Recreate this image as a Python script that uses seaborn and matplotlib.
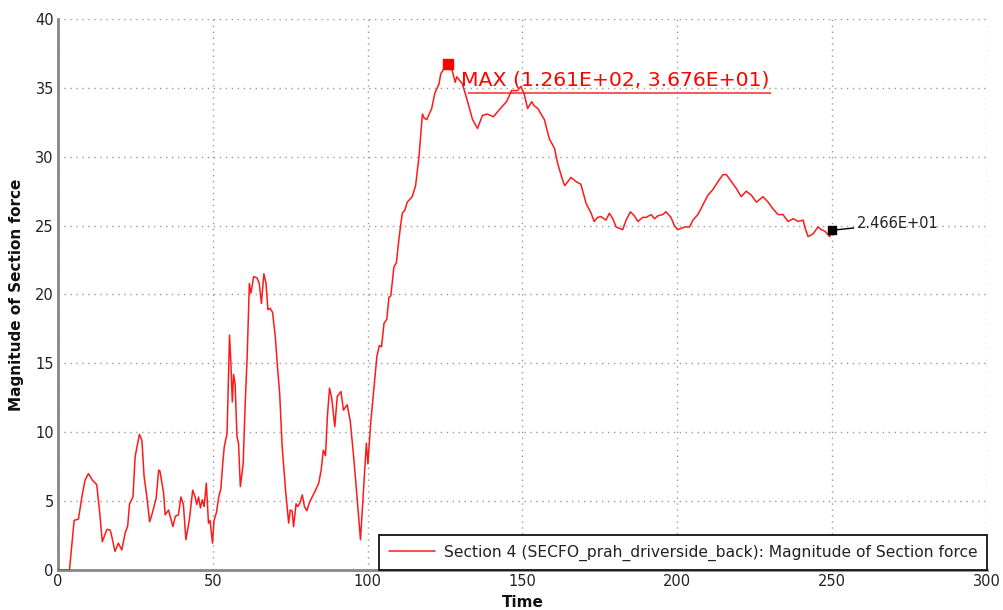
import numpy as np
import pandas as pd
import matplotlib
matplotlib.use("Agg")
import matplotlib.pyplot as plt
import seaborn as sns

# --- data (time, magnitude of section force) ---
time_0_50 = [0, 3.7, 5.2, 6.6, 7.7, 8.7, 9.8, 11.2, 12.5, 13.4, 14.3, 15.8, 16.8, 17.1,
             18.4, 19.5, 20.6, 21.7, 22.5, 23.1, 24.2, 24.9, 25.5, 26.3, 27.1, 27.8, 28.7,
             29.6, 30.3, 31.7, 32.5, 32.9, 34.1, 34.6, 35.7, 37.1, 37.9, 38.9, 39.7, 40.5,
             41.3, 42.4, 43.5, 44.3, 44.8, 45.4, 46.0, 46.6, 47.2, 47.9, 48.6, 49.1, 49.9]
force_0_50 = [0, 0, 3.6, 3.7, 5.3, 6.5, 7.0, 6.5, 6.2, 4.3, 2.05, 2.95, 2.9, 2.7,
              1.35, 1.95, 1.45, 2.7, 3.2, 4.8, 5.3, 8.2, 8.95, 9.85, 9.4, 6.8, 5.3,
              3.5, 4.0, 5.2, 7.25, 7.2, 5.6, 4.0, 4.35, 3.15, 3.9, 4.0, 5.3, 4.75,
              2.2, 3.6, 5.8, 5.3, 4.75, 5.3, 4.5, 5.1, 4.6, 6.3, 3.4, 3.6, 1.95]

time_50_100 = [50.4, 51.2, 51.9, 52.6, 53.2, 53.7, 54.6, 55.4, 55.8, 56.3, 56.7, 57.2, 57.8,
               58.3, 58.9, 59.8, 60.5, 61.1, 61.8, 62.3, 63.2, 64.3, 65.0, 65.7, 66.5, 67.2,
               67.8, 68.5, 69.3, 70.2, 70.8, 71.6, 72.4, 73.5, 74.5, 75.0, 75.6, 76.1, 76.9,
               77.4, 78.1, 78.9, 79.6, 80.4, 81.2, 83.2, 84.2, 85.0, 85.7, 86.4, 87.0, 87.7,
               88.4, 89.4, 90.2, 91.4, 92.2, 93.4, 94.4, 95.5, 96.4, 97.7, 98.8, 99.6, 100.1]
force_50_100 = [3.6, 4.2, 5.3, 5.9, 7.7, 8.95, 9.9, 17.05, 15.2, 12.2, 14.2, 13.5, 9.7,
                9.2, 6.05, 7.7, 12.3, 15.5, 20.8, 20.1, 21.3, 21.2, 20.8, 19.35, 21.5, 20.8,
                18.9, 19.0, 18.7, 16.9, 15.0, 12.8, 8.95, 5.8, 3.4, 4.35, 4.3, 3.15, 4.8,
                4.6, 4.85, 5.45, 4.6, 4.3, 4.9, 5.8, 6.3, 7.25, 8.7, 8.3, 11.1, 13.2,
                12.5, 10.4, 12.6, 12.95, 11.6, 12.0, 10.8, 8.2, 5.8, 2.2, 6.3, 9.2, 7.7]

time_100_150 = [101.0, 102.0, 103.0, 103.8, 104.5, 105.3, 106.2, 106.9, 107.5, 108.5, 109.3,
                110.1, 111.2, 112.0, 112.8, 114.4, 115.5, 116.6, 117.7, 118.3, 119.1, 120.7,
                121.7, 123.1, 123.6, 125.2, 126.1, 127.4, 128.3, 128.8, 130.6, 132.3, 133.9,
                135.5, 137.1, 138.7, 140.6, 142.5, 143.3, 144.9, 146.5, 148.4, 149.5]
force_100_150 = [10.7, 13.1, 15.5, 16.3, 16.2, 17.9, 18.2, 19.8, 19.9, 22.0, 22.3,
                 24.0, 25.9, 26.1, 26.7, 27.1, 27.9, 30.0, 33.1, 32.8, 32.7, 33.5,
                 34.6, 35.3, 36.0, 36.6, 36.76, 36.2, 35.4, 35.8, 35.3, 34.0, 32.7,
                 32.05, 33.0, 33.1, 32.9, 33.4, 33.6, 34.0, 34.8, 34.8, 35.1]

time_150_200 = [150.5, 151.7, 153.0, 153.8, 155.0, 156.0, 157.1, 158.7, 160.4, 161.4, 163.0,
                163.7, 165.7, 167.3, 168.9, 170.6, 172.2, 173.2, 174.3, 175.4, 177.0, 178.1,
                179.2, 180.3, 182.4, 183.5, 184.9, 186.2, 187.3, 188.9, 190.0, 191.6, 192.7,
                193.7, 195.3, 196.4, 198.0, 199.1]
force_150_200 = [34.6, 33.5, 34.0, 33.7, 33.5, 33.1, 32.7, 31.3, 30.6, 29.5, 28.3,
                 27.9, 28.5, 28.2, 28.0, 26.6, 25.9, 25.3, 25.6, 25.65, 25.4, 25.9,
                 25.5, 24.9, 24.7, 25.4, 26.0, 25.7, 25.3, 25.6, 25.6, 25.8, 25.5,
                 25.7, 25.8, 26.0, 25.6, 25.0]

time_200_250 = [200.2, 202.4, 204.0, 205.1, 206.7, 208.3, 209.9, 211.5, 213.2, 214.8, 215.9,
                217.5, 219.1, 220.7, 222.3, 224.0, 225.6, 227.7, 229.4, 231.0, 232.6, 234.2,
                235.8, 237.5, 239.1, 240.7, 241.2, 242.3, 243.9, 245.5, 246.6, 247.7, 249.3,
                250.0]
force_200_250 = [24.7, 24.9, 24.9, 25.4, 25.8, 26.5, 27.2, 27.6, 28.2, 28.7, 28.7,
                 28.2, 27.7, 27.1, 27.5, 27.2, 26.7, 27.1, 26.7, 26.2, 25.8, 25.8,
                 25.3, 25.5, 25.3, 25.4, 24.9, 24.2, 24.4, 24.9, 24.7, 24.6, 24.2,
                 24.66]

series_label = "Section 4 (SECFO_prah_driverside_back): Magnitude of Section force"

df = pd.DataFrame({
    "Time": time_0_50 + time_50_100 + time_100_150 + time_150_200 + time_200_250,
    "Force": force_0_50 + force_50_100 + force_100_150 + force_150_200 + force_200_250,
})

sns.set_theme(style="white")
plt.rcParams["font.family"] = ["DejaVu Sans"]

fig = plt.figure(figsize=(10.04, 6.10), dpi=100)
ax = fig.add_axes([0.0578, 0.0656, 0.925, 0.9033])

sns.lineplot(data=df, x="Time", y="Force", color="#ff1a1a", linewidth=1.1,
             estimator=None, sort=False, ax=ax, label=series_label, zorder=3)

# max marker and label
i_max = df["Force"].idxmax()
t_max, f_max = df.loc[i_max, "Time"], df.loc[i_max, "Force"]
ax.plot(t_max, f_max, marker="s", color="red", markersize=6.5, zorder=4)
ax.text(t_max + 4.2, f_max - 1.2, f"MAX ({t_max:.3E}, {f_max:.3E})",
        color="red", fontsize=14.7, va="center", ha="left", zorder=5)
ax.hlines(f_max - 2.1, t_max + 6.3, t_max + 104.3, color="#ff5555", linewidth=1.4, zorder=2)

# last value marker and label
t_end, f_end = df["Time"].iloc[-1], df["Force"].iloc[-1]
ax.plot(t_end, f_end, marker="s", color="black", markersize=6, zorder=4)
ax.annotate(f"{f_end:.3E}", xy=(t_end, f_end), xytext=(18, 5), textcoords="offset points",
            fontsize=10.5, color="#222222", va="center", ha="left",
            arrowprops=dict(arrowstyle="-", color="black", lw=1, shrinkA=0, shrinkB=3))

ax.set_xlim(0, 300)
ax.set_ylim(0, 40)
ax.set_xticks(np.arange(0, 301, 50))
ax.set_yticks(np.arange(0, 41, 5))
ax.set_xticks(np.arange(25, 300, 50), minor=True)
ax.set_yticks(np.arange(2.5, 40, 5), minor=True)

ax.grid(True, which="major", color="#999999", linestyle=(0, (1, 3.3)), linewidth=1)
ax.tick_params(which="both", direction="in", colors="#888888", labelcolor="#222222",
               labelsize=10.5, pad=3)
ax.tick_params(which="major", length=4, width=1)
ax.tick_params(which="minor", length=4, width=1)

for side in ["top", "right"]:
    ax.spines[side].set_visible(False)
for side in ["left", "bottom"]:
    ax.spines[side].set_color("#888888")
    ax.spines[side].set_linewidth(2)

ax.set_xlabel("Time", fontsize=11, fontweight="bold", color="#111111", labelpad=4)
ax.set_ylabel("Magnitude of Section force", fontsize=11, fontweight="bold",
              color="#111111", labelpad=8)

leg = ax.legend(loc="lower right", borderaxespad=0, fontsize=11.2,
                frameon=True, fancybox=False, handlelength=3.0, handletextpad=0.55,
                borderpad=0.6)
leg.get_frame().set_edgecolor("#111111")
leg.get_frame().set_linewidth(1.3)
leg.get_frame().set_alpha(1)
for txt in leg.get_texts():
    txt.set_color("#222222")

fig.savefig("out.png", dpi=100)
